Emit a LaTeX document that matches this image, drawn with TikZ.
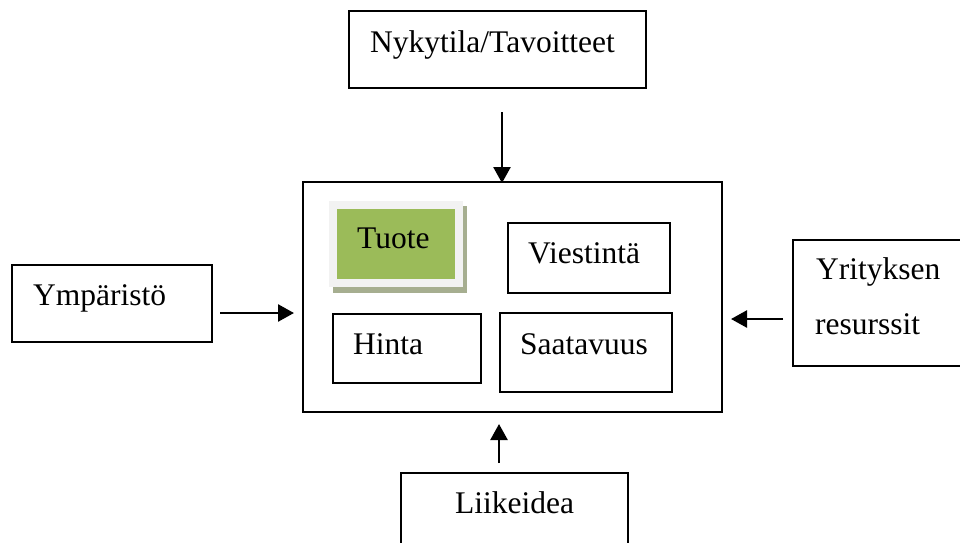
\documentclass[tikz,border=0pt]{standalone}
\usepackage{fontspec}
\setmainfont{Liberation Serif}
\usetikzlibrary{arrows.meta}
\definecolor{tgreen}{HTML}{9BBB59}
\definecolor{tframe}{HTML}{F2F2F2}
\definecolor{tshadow}{HTML}{A6AE90}
\tikzset{
  box/.style={draw, line width=1.9pt, rectangle, inner sep=0pt},
  lbl/.style={anchor=base west, inner sep=0pt, font=\fontsize{31.5}{36}\selectfont},
  arr/.style={line width=2.5pt, -{Triangle[length=16pt,width=17pt]}}
}
\begin{document}
\begin{tikzpicture}[x=1pt,y=-1pt]
\path[use as bounding box, clip] (0,0) rectangle (960,542);
\fill[white] (0,0) rectangle (960,542);
% main box
\node[box, minimum width=419pt, minimum height=230pt] (main) at (512.5,297) {};
% outer boxes
\node[box, minimum width=297pt, minimum height=77pt] (top) at (497.5,49.5) {};
\node[box, minimum width=200pt, minimum height=77pt] (ymp) at (112,303.5) {};
\node[box, minimum width=187pt, minimum height=126pt] (res) at (886.5,303) {};
\node[box, minimum width=227pt, minimum height=97pt] (lii) at (514.5,521.5) {};
% inner boxes
\node[box, minimum width=162pt, minimum height=70pt] (vie) at (589,258) {};
\node[box, minimum width=148pt, minimum height=69pt] (hin) at (407,348.5) {};
\node[box, minimum width=172pt, minimum height=79pt] (saa) at (586,352.5) {};
% Tuote with frame and shadow
\node[fill=tshadow, minimum width=134pt, minimum height=87pt, inner sep=0pt] (tsh) at (400,249.5) {};
\node[fill=tframe, minimum width=134pt, minimum height=86pt, inner sep=0pt] (tfr) at (396,244) {};
\node[fill=tgreen, minimum width=118pt, minimum height=70pt, inner sep=0pt] (tuo) at (396,244) {};
% labels
\node[lbl] (ttop) at (370,52) {Nykytila/Tavoitteet};
\node[lbl] (tymp) at (33,305) {Ympäristö};
\node[lbl] (ttuo) at (357,248) {Tuote};
\node[lbl] (tvie) at (528,263) {Viestintä};
\node[lbl] (thin) at (353,354) {Hinta};
\node[lbl] (tsaa) at (520,354) {Saatavuus};
\node[lbl] (tres1) at (816,279) {Yrityksen};
\node[lbl] (tres2) at (815,334) {resurssit};
\node[lbl] (tlii) at (455,513) {Liikeidea};
% arrow end points
\coordinate (a1s) at (502,112);
\coordinate (a1e) at (502,183);
\coordinate (a2s) at (220,313);
\coordinate (a2e) at (294,313);
\coordinate (a3s) at (783,319);
\coordinate (a3e) at (731,319);
\coordinate (a4s) at (499,463);
\coordinate (a4e) at (499,424);
\draw[arr] (a1s) -- (a1e);
\draw[arr] (a2s) -- (a2e);
\draw[arr] (a3s) -- (a3e);
\draw[arr] (a4s) -- (a4e);
\end{tikzpicture}
\end{document}
